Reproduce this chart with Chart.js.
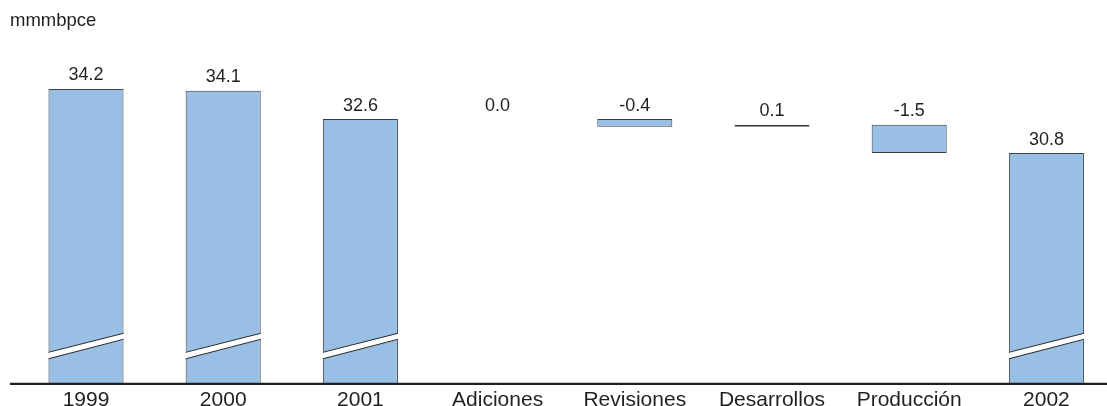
<!DOCTYPE html>
<html>
<head>
<meta charset="utf-8">
<script src="https://cdn.jsdelivr.net/npm/chart.js@4/dist/chart.umd.min.js"></script>
<style>
  html, body { margin: 0; padding: 0; background: #fff; overflow: hidden; width: 1107px; height: 406px; }
  #wrap { position: relative; width: 1107px; height: 406px; overflow: hidden; }
  #unit { position: absolute; left: 10px; top: 9px; font-family: "Liberation Sans", Arial, sans-serif; font-size: 18.5px; line-height: 21px; color: #231f20; }
  canvas { position: absolute; left: 0; top: 0; }
</style>
</head>
<body>
<div id="wrap">
  <canvas id="c" width="1115" height="417"></canvas>
  <div id="unit">mmmbpce</div>
</div>
<script>
const categories = ["1999", "2000", "2001", "Adiciones", "Revisiones", "Desarrollos", "Producción", "2002"];
const totals  = [34.2, 34.1, 32.6, null, null, null, null, 30.8];
const changes = [null, null, null, 0.0, -0.4, 0.1, -1.5, null];
const yMin = 18.55, yMax = 36.8;

// build floating bars: totals start at 0 (cut by the broken axis), changes float on the running level
const barData = [];
const valueLabels = [];
let level = 0;
for (let i = 0; i < categories.length; i++) {
  if (totals[i] !== null) {
    barData.push([0, totals[i]]);
    valueLabels.push(totals[i].toFixed(1));
    level = totals[i];
  } else {
    const next = Math.round((level + changes[i]) * 10) / 10;
    barData.push([level, next]);
    valueLabels.push(changes[i].toFixed(1));
    level = next;
  }
}

const FONT = '"Liberation Sans", Arial, sans-serif';

const decoPlugin = {
  id: 'deco',
  afterDatasetsDraw(chart) {
    const ctx = chart.ctx;
    const meta = chart.getDatasetMeta(0);
    const yScale = chart.scales.y;
    const b = chart.chartArea.bottom;
    ctx.save();
    // axis break marks on the total bars
    meta.data.forEach((el, i) => {
      if (totals[i] === null) return;
      const x0 = el.x - el.width / 2, x1 = el.x + el.width / 2;
      const upL = b - 31.5, upR = b - 50.5, loL = b - 25, loR = b - 44.5;
      ctx.fillStyle = '#ffffff';
      ctx.beginPath();
      ctx.moveTo(x0 - 1.5, upL); ctx.lineTo(x1 + 1.5, upR);
      ctx.lineTo(x1 + 1.5, loR); ctx.lineTo(x0 - 1.5, loL);
      ctx.closePath(); ctx.fill();
      ctx.strokeStyle = '#2b2b2b'; ctx.lineWidth = 1;
      ctx.beginPath(); ctx.moveTo(x0, upL); ctx.lineTo(x1, upR); ctx.stroke();
      ctx.beginPath(); ctx.moveTo(x0, loL); ctx.lineTo(x1, loR); ctx.stroke();
    });
    // value labels
    ctx.fillStyle = '#231f20';
    ctx.font = '18px ' + FONT;
    ctx.textAlign = 'center';
    ctx.textBaseline = 'alphabetic';
    meta.data.forEach((el, i) => {
      const top = Math.max(barData[i][0], barData[i][1]);
      const yp = yScale.getPixelForValue(top);
      ctx.fillText(valueLabels[i], el.x, yp - 8.5);
    });
    // baseline axis
    ctx.strokeStyle = '#231f20';
    ctx.lineWidth = 2.2;
    ctx.beginPath(); ctx.moveTo(10, b); ctx.lineTo(chart.width, b); ctx.stroke();
    ctx.restore();
  }
};

new Chart(document.getElementById('c'), {
  type: 'bar',
  data: {
    labels: categories,
    datasets: [{
      data: barData,
      backgroundColor: '#9abfe5',
      borderColor: '#3a3f47',
      borderWidth: (c) => {
        const d = barData[c.dataIndex];
        return d && d[0] === d[1] ? 0 : 1;
      },
      borderSkipped: false,
      barPercentage: 0.547,
      categoryPercentage: 1.0
    }]
  },
  options: {
    responsive: false,
    animation: false,
    devicePixelRatio: 1,
    layout: { padding: { left: 17.4, right: 0, top: 40, bottom: 0 } },
    plugins: { legend: { display: false }, tooltip: { enabled: false } },
    scales: {
      x: {
        grid: { display: false, drawTicks: false },
        border: { display: false },
        ticks: { color: '#231f20', font: { family: FONT, size: 21 }, padding: 4, maxRotation: 0, autoSkip: false }
      },
      y: { display: false, min: yMin, max: yMax }
    }
  },
  plugins: [decoPlugin]
});
</script>
</body>
</html>
